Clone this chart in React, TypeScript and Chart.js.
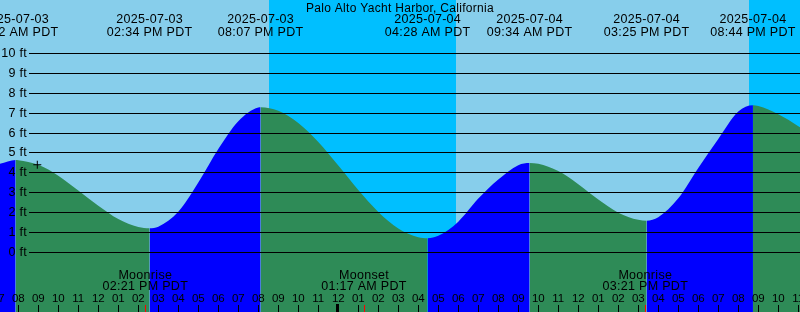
import React, { useEffect, useRef } from "react";
import { Chart, registerables } from "chart.js";

Chart.register(...registerables);

const TITLE = "Palo Alto Yacht Harbor, California";

// hours since 2025-07-03 00:00 PDT
const tideHours = [
  7, 7.867, 8, 9, 10, 11, 12, 13, 14, 14.567, 15, 16, 17, 18, 19, 20, 20.117,
  21, 22, 23, 24, 25, 26, 27, 28, 28.467, 29, 30, 31, 32, 33, 33.567, 34, 35,
  36, 37, 38, 39, 39.417, 40, 41, 42, 43, 44, 44.733, 45, 46, 47, 47.5,
];
const tideFeet = [
  4.43, 4.65, 4.64, 4.41, 3.86, 3.11, 2.35, 1.68, 1.28, 1.22, 1.3, 2.05, 3.52,
  5.2, 6.6, 7.29, 7.3, 7.12, 6.51, 5.55, 4.37, 3.14, 2.04, 1.21, 0.77, 0.72,
  0.84, 1.55, 2.71, 3.67, 4.39, 4.5, 4.46, 4.09, 3.43, 2.66, 2.0, 1.64, 1.6,
  1.77, 2.72, 4.25, 5.7, 7.08, 7.4, 7.36, 6.95, 6.35, 6.0,
];

const extremeTimes = [7.867, 14.567, 20.117, 28.467, 33.567, 39.417, 44.733];
const extremeDates = [
  "2025-07-03", "2025-07-03", "2025-07-03", "2025-07-04", "2025-07-04",
  "2025-07-04", "2025-07-04",
];
const extremeLabels = [
  "07:52 AM PDT", "02:34 PM PDT", "08:07 PM PDT", "04:28 AM PDT",
  "09:34 AM PDT", "03:25 PM PDT", "08:44 PM PDT",
];

const moonTimes = [14.35, 25.283, 39.35];
const moonKinds = ["Moonrise", "Moonset", "Moonrise"];
const moonLabels = ["02:21 PM PDT", "01:17 AM PDT", "03:21 PM PDT"];

const sunsetTimes = [20.533, 44.533];
const sunriseTimes = [29.883, 53.9];

const markerTime = [8.95];
const markerFeet = [4.41];

const feetTicks = [0, 1, 2, 3, 4, 5, 6, 7, 8, 9, 10];
const feetLabels = ["0 ft", "1 ft", "2 ft", "3 ft", "4 ft", "5 ft", "6 ft", "7 ft", "8 ft", "9 ft", "10 ft"];

const hourTicks = [
  7, 8, 9, 10, 11, 12, 13, 14, 15, 16, 17, 18, 19, 20, 21, 22, 23, 24, 25, 26,
  27, 28, 29, 30, 31, 32, 33, 34, 35, 36, 37, 38, 39, 40, 41, 42, 43, 44, 45,
  46, 47,
];
const hourLabels = [
  "07", "08", "09", "10", "11", "12", "01", "02", "03", "04", "05", "06", "07",
  "08", "09", "10", "11", "12", "01", "02", "03", "04", "05", "06", "07", "08",
  "09", "10", "11", "12", "01", "02", "03", "04", "05", "06", "07", "08", "09",
  "10", "11",
];
const midnightHours = [24];

const X_MIN = 7.085;
const X_MAX = 47.085;
const Y_MIN = -2.99;
const Y_MAX = 12.688;

const DAY = "#87CEEB";
const NIGHT = "#00BFFF";
const RISE = "#0000FF";
const FALL = "#2E8B57";
const FONT = "'Liberation Sans', Arial, sans-serif";

const bgPlugin = {
  id: "bgBands",
  beforeDatasetsDraw(chart: any) {
    const { ctx, chartArea: a, scales } = chart;
    const x = scales.x;
    ctx.save();
    ctx.fillStyle = DAY;
    ctx.fillRect(a.left, a.top, a.right - a.left, a.bottom - a.top);
    ctx.fillStyle = NIGHT;
    sunsetTimes.forEach((s, i) => {
      const x0 = Math.round(x.getPixelForValue(s));
      const x1 = Math.round(x.getPixelForValue(sunriseTimes[i]));
      const l = Math.max(x0, a.left);
      const r = Math.min(x1, a.right);
      if (r > l) ctx.fillRect(l, a.top, r - l, a.bottom - a.top);
    });
    ctx.restore();
  },
};

const overlayPlugin = {
  id: "overlay",
  afterDatasetsDraw(chart: any) {
    const { ctx, chartArea: a, scales } = chart;
    const xs = scales.x;
    const ys = scales.y;
    ctx.save();
    ctx.fillStyle = "#000";
    (ctx as any).letterSpacing = "0.3px";
    feetTicks.forEach((v, i) => {
      const py = ys.getPixelForValue(v);
      ctx.fillRect(29, Math.floor(py), a.right - 29, 1);
      ctx.font = `12.5px ${FONT}`;
      ctx.textAlign = "right";
      ctx.textBaseline = "middle";
      ctx.fillText(feetLabels[i], 27, Math.floor(py) + 0.5);
    });

    ctx.font = `12px ${FONT}`;
    ctx.textAlign = "center";
    ctx.textBaseline = "alphabetic";
    ctx.fillText(TITLE, (a.left + a.right) / 2, 12);

    ctx.font = `12.5px ${FONT}`;
    extremeTimes.forEach((t, i) => {
      const px = xs.getPixelForValue(t);
      ctx.fillText(extremeDates[i], px, 23);
      ctx.fillText(extremeLabels[i], px, 36);
    });

    ctx.font = `12.5px ${FONT}`;
    moonTimes.forEach((t, i) => {
      const px = xs.getPixelForValue(t);
      ctx.fillText(moonKinds[i], px, 279);
      ctx.fillText(moonLabels[i], px, 289.5);
    });

    (ctx as any).letterSpacing = "0px";
    ctx.font = `11.5px ${FONT}`;
    hourTicks.forEach((t, i) => {
      const px = xs.getPixelForValue(t);
      ctx.fillStyle = "#000";
      ctx.fillText(hourLabels[i], px, 301.5);
      const isMid = midnightHours.includes(t);
      if (isMid) ctx.fillRect(Math.round(px) - 2, 304, 3, 8);
      else ctx.fillRect(Math.round(px), 305, 1, 7);
    });
    ctx.fillStyle = "#FF0000";
    moonTimes.forEach((t) => {
      const px = xs.getPixelForValue(t);
      ctx.fillRect(Math.round(px), 305, 1, 7);
    });
    ctx.restore();
  },
};

export default function App() {
  const ref = useRef<HTMLCanvasElement | null>(null);
  useEffect(() => {
    if (!ref.current) return;
    const chart = new Chart(ref.current, {
      type: "line",
      data: {
        datasets: [
          {
            data: tideHours.map((t, i) => ({ x: t, y: tideFeet[i] })),
            order: 2,
            borderWidth: 0,
            borderColor: "rgba(0,0,0,0)",
            pointRadius: 0,
            pointHoverRadius: 0,
            fill: "start",
            backgroundColor: FALL,
            tension: 0.4,
            cubicInterpolationMode: "monotone",
            segment: {
              backgroundColor: (c: any) =>
                c.p1.parsed.y >= c.p0.parsed.y ? RISE : FALL,
            },
          } as any,
          {
            data: markerTime.map((t, i) => ({ x: t, y: markerFeet[i] })),
            order: 0,
            showLine: false,
            fill: false,
            pointStyle: "cross",
            pointRadius: 4,
            pointHoverRadius: 4,
            pointBorderColor: "#000",
            pointBackgroundColor: "#000",
            pointBorderWidth: 1,
            borderColor: "#000",
          } as any,
        ],
      },
      options: {
        animation: false,
        responsive: false,
        devicePixelRatio: 1,
        events: [],
        layout: { padding: 0, autoPadding: false },
        plugins: {
          legend: { display: false },
          tooltip: { enabled: false },
          title: { display: false },
        },
        scales: {
          x: { type: "linear", min: X_MIN, max: X_MAX, display: false },
          y: { type: "linear", min: Y_MIN, max: Y_MAX, display: false },
        },
      } as any,
      plugins: [bgPlugin, overlayPlugin],
    });
    return () => chart.destroy();
  }, []);
  return (
    <div style={{ position: "fixed", left: 0, top: 0, width: 800, height: 312 }}>
      <canvas ref={ref} width={800} height={312} style={{ display: "block" }} />
    </div>
  );
}
